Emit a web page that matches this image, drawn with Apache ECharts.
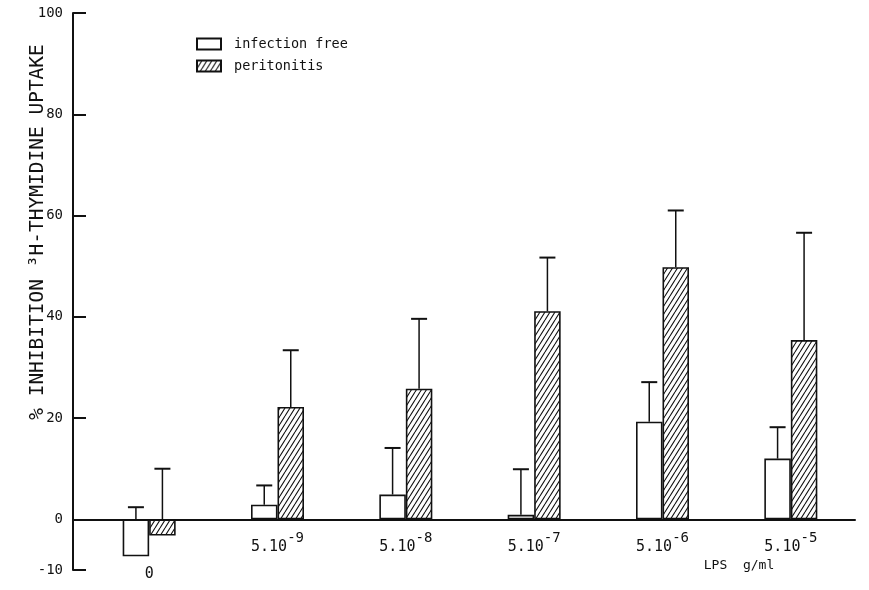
<!DOCTYPE html>
<html>
<head>
<meta charset="utf-8">
<script src="https://cdn.jsdelivr.net/npm/echarts@6/dist/echarts.min.js"></script>
<style>
  html, body { margin: 0; padding: 0; background: #fff; }
  #chart { width: 869px; height: 590px; }
</style>
</head>
<body>
<div id="chart"></div>
<script>
// LPS concentrations (g/ml) on the category axis
const doseLabels = ['0', '5.10^-9', '5.10^-8', '5.10^-7', '5.10^-6', '5.10^-5'];
// mean % inhibition and upper SD for each group
const infectionFree   = [-7.3, 2.9, 4.9, 0.9, 19.3, 12.0];
const infectionFreeSD = [9.7, 3.8, 9.2, 9.0, 7.8, 6.2];
const peritonitis     = [-3.2, 22.2, 25.8, 41.1, 49.8, 35.4];
const peritonitisSD   = [13.2, 11.2, 13.8, 10.6, 11.2, 21.2];
const yTicks = [-10, 0, 20, 40, 60, 80, 100];
const seriesNames = ['infection free', 'peritonitis'];

const INK = '#111';
const MONO = '"DejaVu Sans Mono", "Liberation Mono", monospace';
const BAR_W = 26.5;

// diagonal hatch fill for the peritonitis bars
function hatchPattern() {
  const w = 5, h = 8;
  const c = document.createElement('canvas');
  c.width = w; c.height = h;
  const g = c.getContext('2d');
  g.fillStyle = '#fff';
  g.fillRect(0, 0, w, h);
  g.strokeStyle = INK;
  g.lineWidth = 1.1;
  g.beginPath();
  for (const dx of [-w, 0, w]) { g.moveTo(dx, h); g.lineTo(dx + w, 0); }
  g.stroke();
  return { image: c, repeat: 'repeat' };
}

// one-sided error bars (upwards) drawn above each bar
function errorBars(side, means, sds) {
  return {
    type: 'custom',
    z: 5,
    silent: true,
    encode: { x: 0, y: [1, 2] },
    data: means.map((m, i) => [i, Math.max(m, 0), m + sds[i]]),
    renderItem(params, api) {
      const i = api.value(0);
      const base = api.coord([i, api.value(1)]);
      const top = api.coord([i, api.value(2)]);
      const x = base[0] + side * BAR_W / 2;
      const cap = 8;
      return {
        type: 'group',
        children: [
          { type: 'line', shape: { x1: x, y1: base[1], x2: x, y2: top[1] },
            style: { stroke: INK, lineWidth: 1.5 } },
          { type: 'line', shape: { x1: x - cap, y1: top[1], x2: x + cap, y2: top[1] },
            style: { stroke: INK, lineWidth: 2 } }
        ]
      };
    }
  };
}

const chart = echarts.init(document.getElementById('chart'), null, { renderer: 'canvas' });

chart.setOption({
  backgroundColor: '#fff',
  animation: false,
  grid: { left: 85, right: 14, top: 13, bottom: 20, containLabel: false, outerBoundsMode: 'none' },
  legend: {
    data: seriesNames,
    orient: 'vertical',
    left: 196,
    top: 37,
    padding: 0,
    itemWidth: 24,
    itemHeight: 11,
    itemGap: 8,
    icon: 'rect',
    textStyle: { fontFamily: MONO, fontSize: 13.5, color: INK, padding: [0, 0, 0, 8] }
  },
  xAxis: {
    type: 'category',
    data: doseLabels,
    axisLine: { onZero: true, lineStyle: { color: INK, width: 2 } },
    axisTick: { show: false },
    axisLabel: {
      interval: 0,
      margin: -39,
      color: INK,
      fontFamily: MONO,
      formatter: (v) => {
        if (v.indexOf('^') < 0) return '{z|' + v + '}';
        const parts = v.split('^');
        return '{n|' + parts[0] + '}{s|' + parts[1] + '}';
      },
      rich: {
        n: { fontFamily: MONO, fontSize: 15, color: INK, lineHeight: 24, verticalAlign: 'bottom' },
        s: { fontFamily: MONO, fontSize: 14, color: INK, lineHeight: 24, verticalAlign: 'top' },
        z: { fontFamily: MONO, fontSize: 15, color: INK, padding: [36, 0, 0, 0] }
      }
    },
    splitLine: { show: false }
  },
  yAxis: {
    type: 'value',
    min: -10,
    max: 100,
    offset: 12,
    axisLine: { show: true, onZero: false, lineStyle: { color: INK, width: 2 } },
    axisTick: { show: true, inside: true, length: 13, customValues: yTicks,
                lineStyle: { color: INK, width: 2 } },
    axisLabel: { customValues: yTicks, color: INK, fontFamily: MONO, fontSize: 14, margin: 10 },
    splitLine: { show: false }
  },
  series: [
    {
      name: seriesNames[0],
      type: 'bar',
      data: infectionFree,
      barWidth: BAR_W,
      barGap: '0%',
      itemStyle: { color: '#fff', borderColor: INK, borderWidth: 1.6 }
    },
    {
      name: seriesNames[1],
      type: 'bar',
      data: peritonitis,
      barWidth: BAR_W,
      barGap: '0%',
      itemStyle: { color: hatchPattern(), borderColor: INK, borderWidth: 1.6 }
    },
    errorBars(-1, infectionFree, infectionFreeSD),
    errorBars(1, peritonitis, peritonitisSD)
  ],
  graphic: [
    {
      type: 'text',
      x: 38,
      y: 232,
      rotation: Math.PI / 2,
      style: {
        text: '% INHIBITION ³H-THYMIDINE UPTAKE',
        font: '19.5px ' + MONO,
        fill: INK,
        align: 'center',
        verticalAlign: 'middle'
      }
    },
    {
      type: 'text',
      x: 739,
      y: 566,
      style: {
        text: 'LPS  g/ml',
        font: '13px ' + MONO,
        fill: INK,
        align: 'center',
        verticalAlign: 'middle'
      }
    }
  ]
});
</script>
</body>
</html>
